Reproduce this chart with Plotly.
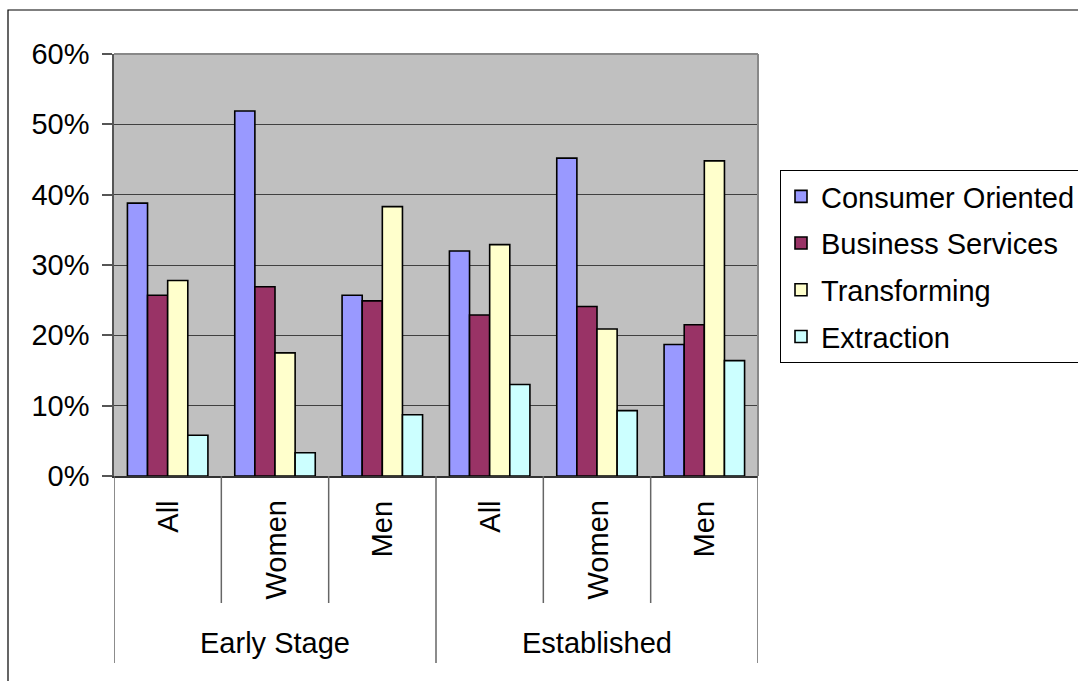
import plotly.graph_objects as go

# ---- data ----
stages = ["Early Stage", "Established"]
groups = ["All", "Women", "Men"]
series_names = ["Consumer Oriented", "Business Services", "Transforming", "Extraction"]
consumer = [38.8, 51.9, 25.7, 32.0, 45.2, 18.7]
business = [25.7, 26.9, 24.9, 22.9, 24.1, 21.5]
transforming = [27.8, 17.5, 38.3, 32.9, 20.9, 44.8]
extraction = [5.8, 3.3, 8.7, 13.0, 9.3, 16.4]
colors = ["#9999FF", "#993366", "#FFFFCC", "#CCFFFF"]
y_ticks = [0, 10, 20, 30, 40, 50, 60]

# ---- layout geometry (pixels) ----
W, H = 1078, 681
L, R, T, B = 114, 320, 54, 205
pw, ph = W - L - R, H - T - B
FONT = "Liberation Sans, Arial, sans-serif"
FS = 29

def px_x(p):
    return (p - L) / pw

def px_y(p):
    return (H - B - p) / ph

cats = [(s, g) for s in stages for g in groups]
xpos = list(range(len(cats)))

fig = go.Figure()
for name, vals, col in zip(series_names, [consumer, business, transforming, extraction], colors):
    fig.add_trace(go.Bar(
        x=xpos, y=vals, name=name, legendgroup=name,
        marker=dict(color=col, line=dict(color="black", width=1.6)),
        hovertext=[f"{s} – {g}" for s, g in cats],
    ))

shapes = []
# outer chart border
shapes.append(dict(type="rect", xref="paper", yref="paper",
                   x0=px_x(8), x1=px_x(1085), y0=px_y(690), y1=px_y(10),
                   line=dict(color="black", width=1.2), layer="below"))
# plot area top/right border
shapes.append(dict(type="line", xref="paper", yref="paper", x0=0, x1=1, y0=1, y1=1,
                   line=dict(color="#888888", width=2)))
shapes.append(dict(type="line", xref="paper", yref="paper", x0=1, x1=1, y0=0, y1=1,
                   line=dict(color="#888888", width=2)))
# category dividers
n_in = len(groups)
for i in range(len(cats) + 1):
    outer = (i % n_in == 0)
    shapes.append(dict(type="line", xref="x", yref="paper",
                       x0=i - 0.5, x1=i - 0.5, y0=0,
                       y1=px_y(663) if outer else px_y(603),
                       line=dict(color="#666666", width=1.5)))

annotations = []
for i, (s, g) in enumerate(cats):
    annotations.append(dict(text=g, x=i, y=px_y(499), xref="x", yref="paper",
                            textangle=-90, xanchor="center", yanchor="top",
                            showarrow=False, font=dict(family=FONT, size=FS, color="black")))
for j, s in enumerate(stages):
    annotations.append(dict(text=s, x=j * n_in + (n_in - 1) / 2, y=px_y(643),
                            xref="x", yref="paper", xanchor="center", yanchor="middle",
                            showarrow=False, font=dict(family=FONT, size=FS, color="black")))

fig.update_layout(
    width=W, height=H,
    margin=dict(l=L, r=R, t=T, b=B, autoexpand=False),
    paper_bgcolor="white", plot_bgcolor="#C0C0C0",
    barmode="group", bargap=0.25, bargroupgap=0,
    font=dict(family=FONT, size=FS, color="black"),
    showlegend=True,
    legend=dict(x=px_x(780), y=px_y(170), xanchor="left", yanchor="top",
                bordercolor="black", borderwidth=1, bgcolor="white",
                font=dict(family=FONT, size=FS, color="black"),
                tracegroupgap=6, traceorder="grouped"),
    xaxis=dict(range=[-0.5, len(cats) - 0.5], showticklabels=False, showgrid=False,
               zeroline=False, showline=True, linecolor="#333333", linewidth=1.5,
               ticks="", fixedrange=True),
    yaxis=dict(range=[0, 60], tickvals=y_ticks, ticktext=[f"{v}%" for v in y_ticks],
               showgrid=True, gridcolor="#404040", gridwidth=1, zeroline=False,
               showline=True, linecolor="#555555", linewidth=1.5,
               ticks="outside", ticklen=10, tickcolor="#555555", tickwidth=1.5,
               ticklabelstandoff=7, fixedrange=True),
    shapes=shapes, annotations=annotations,
)

fig.write_html("out.html")
